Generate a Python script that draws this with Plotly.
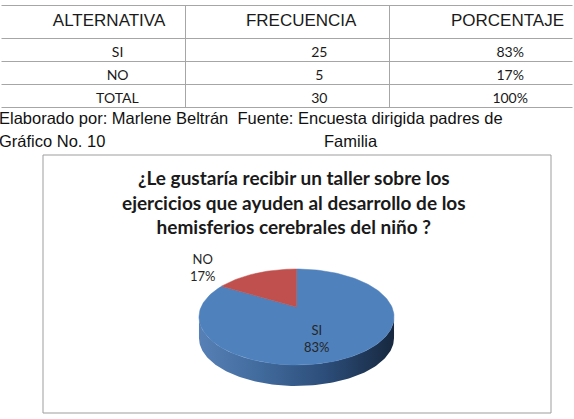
import math
import plotly.graph_objects as go

# ---- data ----
table_header = ["ALTERNATIVA", "FRECUENCIA", "PORCENTAJE"]
alternativas = ["SI", "NO", "TOTAL"]
frecuencias = [25, 5, 30]
porcentajes = ["83%", "17%", "100%"]

categories = ["SI", "NO"]
values = [25, 5]
slice_colors = ["#4f81bd", "#c0504d"]

chart_title = "¿Le gustaría recibir un taller sobre los<br>ejercicios que ayuden al desarrollo de los<br>hemisferios cerebrales del niño ?"
note_line1 = "Elaborado por: Marlene Beltrán \u00a0Fuente: Encuesta dirigida padres de"
note_line2 = "Gráfico No. 10"
note_line3 = "Familia"

W, H = 574, 419
fig = go.Figure()

# ---- table ----
def pad(s, n):
    return "\u00a0" * n + str(s)

fig.add_trace(go.Table(
    domain=dict(x=[0, 1], y=[1 - 108 / H, 1 - 5 / H]),
    columnwidth=[185, 204, 185],
    header=dict(
        values=[pad(table_header[0], 7), pad(table_header[1], 6), pad(table_header[2], 11)],
        height=33, align="center",
        fill_color="white", line_color="#a6a6a6",
        font=dict(family="Liberation Sans, Arial", size=17, color="#1a1a1a"),
    ),
    cells=dict(
        values=[[pad(a, 14) for a in alternativas],
                [pad(f, 18) for f in frecuencias],
                [pad(p, 16) for p in porcentajes]],
        height=23, align="center",
        fill_color="white", line_color="#a6a6a6",
        font=dict(family="Lato, Calibri, sans-serif", size=14, color="#1a1a1a"),
    ),
))

# ---- 3D-looking pie (perspective projection of a disc) ----
cx, cy = 296.5, 307.0
R, Hh, p = 95.4, 45.9, 0.208
depth = 21.0

def proj(theta):
    s = 1.0 / (1.0 - p * math.sin(theta))
    return cx + R * math.cos(theta) * s, cy + Hh * math.sin(theta) * s

# side (front rim)
th_r = math.asin(p)
th_l = math.pi - th_r
n = 120
top_pts = [proj(th_r + (th_l - th_r) * i / n) for i in range(n + 1)]
sx = [q[0] for q in top_pts] + [q[0] for q in reversed(top_pts)]
sy = [q[1] for q in top_pts] + [q[1] + depth for q in reversed(top_pts)]
fig.add_trace(go.Scatter(
    x=sx, y=sy, mode="lines", line=dict(width=0), fill="toself",
    fillgradient=dict(type="horizontal",
                      colorscale=[[0, "#5780b6"], [0.3, "#426c9e"], [0.65, "#2c4d79"], [1, "#17283f"]]),
    hoverinfo="skip", showlegend=False,
))

total = sum(values)
cum = 0.0
for cat, v, col in zip(categories, values, slice_colors):
    a0 = -math.pi / 2 + 2 * math.pi * cum / total
    a1 = -math.pi / 2 + 2 * math.pi * (cum + v) / total
    cum += v
    m = max(8, int(200 * v / total))
    arc = [proj(a0 + (a1 - a0) * i / m) for i in range(m + 1)]
    xs = [cx] + [q[0] for q in arc] + [cx]
    ys = [cy] + [q[1] for q in arc] + [cy]
    fig.add_trace(go.Scatter(
        x=xs, y=ys, mode="lines", line=dict(width=0.5, color=col), fill="toself",
        fillcolor=col, name=cat, hoverinfo="name", showlegend=False,
    ))

# ---- labels ----
label_pos = {"SI": (317, 338), "NO": (203, 267)}
annotations = []
for cat, v in zip(categories, values):
    lx, ly = label_pos[cat]
    annotations.append(dict(
        x=lx, y=ly, xref="x", yref="y", showarrow=False,
        text=f"{cat}<br>{round(100 * v / total)}%",
        font=dict(family="Lato, Calibri, sans-serif", size=13, color="#262626"),
        align="center",
    ))

annotations.append(dict(
    x=294, y=202, xref="x", yref="y", showarrow=False, text="<b>" + chart_title + "</b>",
    font=dict(family="Lato, Calibri, sans-serif", size=19, color="#1a1a1a"), align="center",
))
note_font = dict(family="Liberation Sans, Arial", size=16.5, color="#111111")
annotations.append(dict(
    x=-3 / W, y=118, xref="paper", yref="y", showarrow=False, xanchor="left", text=note_line1,
    font=note_font,
))
annotations.append(dict(
    x=-3 / W, y=141, xref="paper", yref="y", showarrow=False, xanchor="left", text=note_line2,
    font=note_font,
))
annotations.append(dict(
    x=351 / W, y=141, xref="paper", yref="y", showarrow=False, xanchor="center", text=note_line3,
    font=note_font,
))

fig.update_layout(
    width=W, height=H,
    margin=dict(l=0, r=0, t=0, b=0),
    paper_bgcolor="white", plot_bgcolor="rgba(0,0,0,0)",
    xaxis=dict(range=[0, W], visible=False, fixedrange=True, domain=[0, 1]),
    yaxis=dict(range=[H, 0], visible=False, fixedrange=True, domain=[0, 1]),
    annotations=annotations,
    shapes=[
        dict(type="rect", xref="x", yref="y", x0=43, y0=155, x1=551, y1=413,
             line=dict(color="#9d9d9d", width=1), layer="below"),
        dict(type="line", xref="paper", yref="paper", x0=0, x1=0, y0=0.7, y1=1,
             line=dict(color="white", width=3), layer="above"),
        dict(type="line", xref="paper", yref="paper", x0=1, x1=1, y0=0.7, y1=1,
             line=dict(color="white", width=3), layer="above"),
    ],
    showlegend=False,
)

fig.write_html("out.html")
